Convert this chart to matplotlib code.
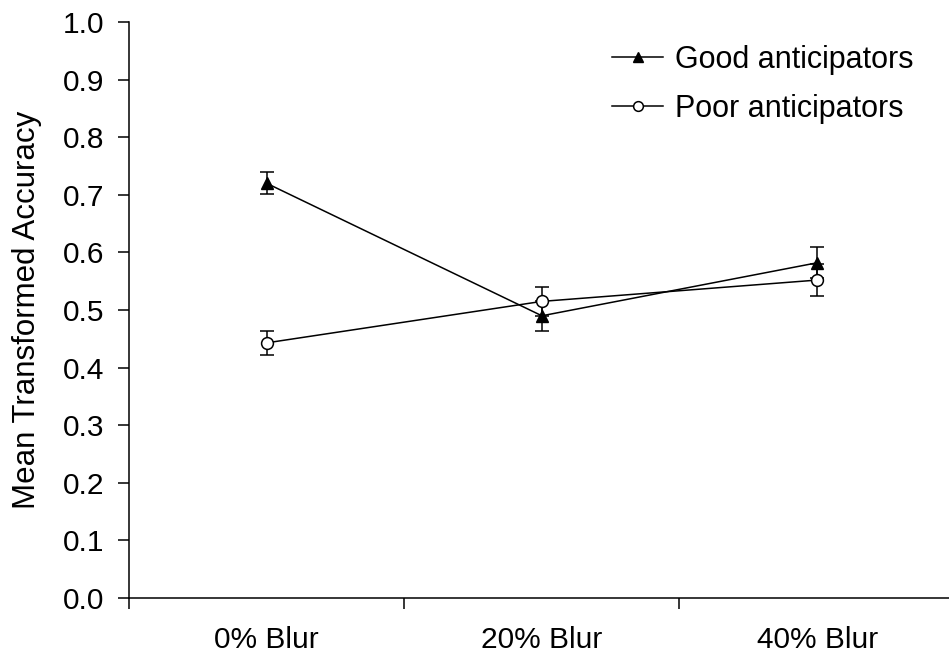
import numpy as np
import matplotlib.pyplot as plt

plt.rcParams['font.family'] = ['Liberation Sans', 'DejaVu Sans']

categories = ['0% Blur', '20% Blur', '40% Blur']
good_mean = [0.72, 0.49, 0.582]
good_err = [0.019, 0.026, 0.027]
poor_mean = [0.443, 0.515, 0.552]
poor_err = [0.021, 0.025, 0.028]

x = np.arange(len(categories))

fig = plt.figure(figsize=(9.49, 6.56), dpi=100)
ax = fig.add_axes([0.136, 0.0884, 0.870, 0.878])

lw = 1.1
ax.errorbar(x, good_mean, yerr=good_err, color='black', lw=lw, marker='^',
            ms=9, mfc='black', mec='black', capsize=4.7, capthick=lw, elinewidth=lw,
            label='Good anticipators')
ax.errorbar(x, poor_mean, yerr=poor_err, color='black', lw=lw, marker='o',
            ms=8.5, mfc='white', mec='black', mew=lw, capsize=4.7, capthick=lw,
            elinewidth=lw, label='Poor anticipators')

ax.set_xlim(-0.5, 2.5)
ax.set_ylim(0, 1.0)
yt = np.arange(0, 1.01, 0.1)
ax.set_yticks(yt)
ax.set_yticklabels(['%.1f' % v for v in yt])
ax.set_xticks([-0.5, 0.5, 1.5, 2.5])
ax.set_xticklabels([])
ax.set_xticks(x, minor=True)
ax.set_xticklabels(categories, minor=True)
ax.tick_params(axis='x', which='minor', length=0, pad=20, labelsize=21.5)
ax.tick_params(axis='x', which='major', direction='out', length=8, width=lw)
ax.tick_params(axis='y', direction='out', length=8, width=lw, labelsize=21.5, pad=10)

ax.spines['top'].set_visible(False)
ax.spines['right'].set_visible(False)
ax.spines['left'].set_linewidth(lw)
ax.spines['bottom'].set_linewidth(lw)

ax.set_ylabel('Mean Transformed Accuracy', fontsize=22.5)
ax.yaxis.set_label_coords(-0.105, 0.5)

handles, labels = ax.get_legend_handles_labels()
handles = [h[0] for h in handles]
leg = fig.legend(handles, labels, loc='upper left', bbox_to_anchor=(612 / 949, 1 - 45 / 656),
                 frameon=False, fontsize=22, handlelength=1.67, handletextpad=0.38,
                 labelspacing=0.62, borderpad=0, borderaxespad=0)
leg.legend_handles[0].set_markersize(7.5)
leg.legend_handles[1].set_markersize(7)

fig.savefig('out.png', dpi=100)
